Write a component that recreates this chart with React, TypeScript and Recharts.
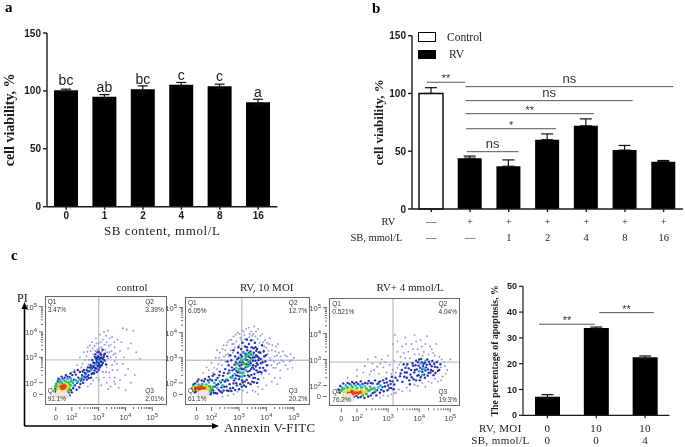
import {
  BarChart,
  Bar,
  XAxis,
  YAxis,
  ErrorBar,
  LabelList,
  Legend,
  ReferenceLine,
  ScatterChart,
  Scatter,
} from "recharts";

type Pt = [number, number];

// panel a
const doses = ["0", "1", "2", "4", "8", "16"];
const viability = [100.5, 95, 101.5, 105.3, 104, 90.2];
const viabilityErr = [1, 1.8, 2.8, 2, 1.8, 2.6];
const letters = ["bc", "ab", "bc", "c", "c", "a"];

// panel b
const rvRow = ["—", "+", "+", "+", "+", "+", "+"];
const sbRow = ["—", "—", "1", "2", "4", "8", "16"];
const controlVals = [100];
const controlErr = [5];
const rvVals = [44, 37, 60, 72, 51, 41];
const rvErr = [1.8, 5.5, 5, 6, 4, 1];
const bBrackets = [
  { x1: 0.38, x2: 1.38, y: 109.7, text: "**" },
  { x1: 1.38, x2: 6.75, y: 105.9, text: "ns" },
  { x1: 1.38, x2: 5.7, y: 93.8, text: "ns" },
  { x1: 1.38, x2: 4.7, y: 82.5, text: "**" },
  { x1: 1.4, x2: 3.72, y: 69.5, text: "*" },
  { x1: 1.42, x2: 2.75, y: 49.6, text: "ns" },
];

// panel c bars
const moiRow = ["0", "10", "10"];
const sbMmolRow = ["0", "0", "4"];
const apoptosis = [7.2, 33.8, 22.5];
const apoptosisErr = [0.8, 0.4, 0.5];
const cBrackets = [
  { x1: 0.33, x2: 1.47, y: 35.3, text: "**" },
  { x1: 1.56, x2: 2.68, y: 39.8, text: "**" },
];

// flow cytometry, control
const ctlPale: Pt[] = [[1.42, 1.5], [1.55, 1.46], [1.68, 1.5], [1.8, 1.48], [1.5, 1.6], [1.72, 1.58]];
const ctlHot: Pt[] = [[1.62, 1.8], [1.68, 1.84], [1.72, 1.8], [1.66, 1.76], [1.75, 1.86], [1.6, 1.86], [1.7, 1.9]];
const ctlYellow: Pt[] = [[1.5, 1.78], [1.56, 1.86], [1.8, 1.92], [1.78, 1.74], [1.58, 1.7], [1.85, 1.84], [1.52, 1.92], [1.74, 1.96]];
const ctlGreen: Pt[] = [[1.42, 1.72], [1.46, 1.84], [1.5, 1.98], [1.62, 2.0], [1.76, 2.04], [1.88, 2.0], [1.94, 1.9], [1.9, 1.76], [1.84, 1.66], [1.45, 1.62], [1.98, 2.06], [1.4, 1.86]];
const ctlCyan: Pt[] = [[1.38, 1.76], [1.44, 1.96], [1.56, 2.08], [1.7, 2.12], [1.84, 2.14], [1.96, 2.16], [2.04, 2.0], [2.08, 1.88], [2.14, 2.1], [2.22, 2.04], [2.3, 2.14], [2.4, 2.22], [2.5, 2.3], [2.72, 2.5], [2.9, 2.72], [3.0, 2.86]];
const ctlBlue: Pt[] = [[1.38, 1.58], [1.42, 1.95], [1.48, 2.06], [1.55, 2.12], [1.6, 1.55], [1.66, 2.16], [1.72, 1.5], [1.74, 2.2], [1.8, 1.52], [1.84, 2.24], [1.88, 1.6], [1.92, 2.22], [1.96, 1.7], [2.02, 2.3], [2.05, 1.78], [2.08, 2.12], [2.12, 1.9], [2.15, 2.32], [2.2, 2.0], [2.24, 2.2], [2.28, 1.82], [2.3, 2.42], [2.34, 2.08], [2.38, 2.3], [2.42, 2.0], [2.45, 2.5], [2.5, 2.2], [2.52, 2.36], [2.56, 2.12], [2.6, 2.6], [2.62, 2.3], [2.66, 2.46], [2.7, 2.7], [2.72, 2.2], [2.75, 2.55], [2.78, 2.38], [2.8, 2.8], [2.82, 2.62], [2.85, 2.48], [2.88, 2.72], [2.9, 2.95], [2.92, 2.56], [2.94, 2.82], [2.96, 2.66], [2.98, 3.05], [3.0, 2.75], [3.02, 2.9], [3.04, 2.6], [3.06, 3.15], [3.08, 2.84], [3.1, 3.0], [3.12, 2.7], [3.15, 3.3], [3.18, 2.92], [3.2, 3.1], [2.96, 3.2], [3.0, 2.5], [2.86, 3.02], [2.76, 2.9],
  [1.52, 1.54], [1.67, 1.45], [1.92, 1.5], [2.0, 1.62], [1.5, 2.16], [1.62, 2.24], [1.78, 2.3], [1.95, 2.36], [2.1, 2.42], [2.22, 2.5], [2.36, 2.16], [2.46, 2.24], [2.18, 1.72], [2.32, 1.95], [2.44, 2.12], [2.58, 2.24], [2.64, 2.18], [2.68, 2.6], [2.74, 2.34], [2.79, 2.66], [2.83, 2.36], [2.87, 2.58], [2.91, 2.78], [2.93, 2.42], [2.97, 2.92], [3.01, 3.0], [3.03, 2.7], [3.05, 2.95], [3.07, 2.66], [3.09, 3.1], [3.11, 2.82], [3.13, 2.96], [3.16, 2.78], [3.19, 3.02], [3.22, 2.88], [3.24, 3.14], [3.28, 2.72], [3.32, 3.04], [2.88, 3.12], [2.94, 3.0], [3.0, 3.22], [2.99, 2.68], [2.93, 2.88], [3.03, 2.82], [2.83, 2.78], [2.72, 2.6], [2.6, 2.44], [2.55, 2.5], [2.48, 2.38], [2.4, 2.44]];
const ctlSparse: Pt[] = [[2.2, 2.7], [2.3, 3.0], [2.4, 2.75], [2.45, 3.2], [2.55, 3.05], [2.6, 3.4], [2.65, 2.9], [2.7, 3.25], [2.75, 3.6], [2.8, 3.1], [2.85, 3.45], [2.9, 3.75], [2.95, 3.3], [3.0, 3.55], [3.05, 3.9], [3.1, 3.4], [3.15, 3.7], [3.2, 4.0], [3.25, 3.3], [3.3, 3.6], [3.35, 4.05], [3.4, 3.2], [3.45, 3.5], [3.5, 3.8], [3.55, 3.1], [3.6, 3.4], [3.65, 3.0], [3.7, 3.7], [3.8, 3.25], [3.85, 3.6], [3.9, 4.15], [3.95, 3.0], [4.05, 4.1], [4.1, 3.35], [4.2, 3.55], [4.3, 4.05], [4.4, 3.2], [4.55, 2.95], [3.3, 2.6], [3.4, 2.4], [3.5, 2.7], [3.6, 2.2], [3.7, 2.5], [3.8, 2.1], [3.9, 2.75], [4.0, 2.3], [4.1, 2.55], [4.2, 2.0], [3.2, 2.2], [3.3, 2.0], [3.1, 1.9], [3.45, 1.85], [3.75, 1.8], [4.0, 1.7], [4.35, 2.3], [2.1, 2.5], [2.0, 2.4], [2.5, 2.9], [2.35, 2.6], [3.25, 2.85], [3.35, 2.95], [3.45, 3.0], [3.6, 2.85],
  [2.62, 2.72], [2.58, 3.22], [2.68, 3.48], [2.78, 3.35], [2.88, 3.25], [2.92, 3.55], [3.02, 3.35], [3.08, 3.6], [3.12, 3.22], [3.22, 3.5], [3.28, 3.85], [3.32, 3.2], [3.38, 3.45], [3.42, 3.75], [3.48, 3.25], [3.58, 3.6], [3.62, 3.15], [3.68, 2.75], [3.52, 2.5], [3.42, 2.2], [3.28, 2.42], [3.16, 2.42], [3.58, 2.05], [3.36, 1.75], [3.62, 1.95], [2.92, 2.2], [3.0, 2.1], [2.8, 2.1], [2.7, 1.95], [2.6, 1.85]];

// flow cytometry, RV 10 MOI
const rvPale: Pt[] = [[1.55, 1.5], [1.68, 1.48], [1.8, 1.52], [1.62, 1.6], [1.76, 1.62]];
const rvHot: Pt[] = [[1.42, 1.78], [1.5, 1.8], [1.58, 1.78], [1.66, 1.8], [1.74, 1.78], [1.55, 1.74], [1.62, 1.84]];
const rvYellow: Pt[] = [[1.36, 1.8], [1.46, 1.86], [1.7, 1.86], [1.82, 1.8], [1.88, 1.76], [1.78, 1.84], [1.4, 1.72]];
const rvGreen: Pt[] = [[1.3, 1.78], [1.34, 1.86], [1.52, 1.92], [1.66, 1.94], [1.8, 1.92], [1.92, 1.86], [1.98, 1.78], [1.95, 1.68], [2.05, 1.84], [3.1, 2.9], [3.25, 3.05], [3.35, 2.85], [3.0, 2.55], [3.15, 2.4], [3.3, 2.65], [2.95, 2.75], [3.4, 3.15], [3.2, 2.75]];
const rvCyan: Pt[] = [[3.05, 3.0], [3.2, 2.95], [3.3, 3.15], [3.45, 2.95], [2.9, 2.6], [3.05, 2.4], [3.25, 2.5], [3.1, 2.25], [2.85, 2.35], [3.4, 2.7], [2.55, 2.15], [2.4, 1.9], [2.2, 1.8], [2.1, 2.0], [1.9, 2.02], [2.3, 2.05], [2.65, 2.4], [2.75, 2.2], [3.5, 3.1], [3.18, 3.2]];
const rvBlue: Pt[] = [[1.4, 1.98], [1.48, 2.06], [1.56, 1.62], [1.64, 2.1], [1.7, 1.58], [1.76, 2.16], [1.84, 1.6], [1.9, 2.24], [1.96, 1.55], [2.02, 2.1], [2.06, 1.7], [2.1, 2.34], [2.14, 1.6], [2.18, 1.92], [2.22, 2.2], [2.26, 1.72], [2.3, 2.45], [2.34, 2.02], [2.38, 1.62], [2.42, 2.28], [2.46, 1.85], [2.5, 2.55], [2.52, 2.1], [2.56, 1.7], [2.6, 2.38], [2.62, 2.7], [2.66, 1.95], [2.7, 2.22], [2.72, 2.9], [2.76, 2.5], [2.78, 1.8], [2.82, 2.1], [2.84, 2.72], [2.86, 3.05], [2.9, 2.3], [2.92, 1.9], [2.94, 2.95], [2.96, 3.2], [3.0, 2.15], [3.02, 2.68], [3.04, 1.95], [3.06, 3.12], [3.08, 3.35], [3.1, 2.55], [3.12, 2.1], [3.14, 2.82], [3.16, 3.22], [3.18, 1.9], [3.2, 2.28], [3.22, 3.45], [3.24, 2.62], [3.26, 2.92], [3.28, 2.12], [3.3, 3.3], [3.32, 2.45], [3.34, 3.05], [3.36, 3.55], [3.38, 2.25], [3.4, 2.85], [3.42, 3.25], [3.44, 2.55], [3.46, 3.42], [3.48, 2.05], [3.5, 3.0], [3.52, 2.7], [3.54, 3.2], [3.56, 2.35], [3.58, 3.6], [3.6, 2.88], [3.62, 3.1], [3.64, 2.5], [3.66, 3.35], [3.68, 2.72], [3.7, 2.15], [3.72, 3.0], [3.75, 2.45], [3.78, 3.2], [3.8, 2.78], [3.84, 3.5], [3.88, 2.6], [3.92, 3.05], [3.96, 2.85], [2.58, 2.85], [2.68, 3.1], [2.8, 3.3], [2.98, 3.42], [3.12, 3.6], [3.28, 3.72], [3.44, 3.7], [3.6, 3.42], [3.14, 2.02], [3.34, 2.0], [3.52, 2.2], [3.66, 2.0],
  [2.9, 2.0], [2.95, 2.42], [3.03, 2.25], [3.09, 2.72], [3.11, 3.05], [3.17, 2.55], [3.21, 2.05], [3.23, 3.15], [3.27, 2.75], [3.29, 3.42], [3.31, 2.9], [3.33, 2.3], [3.35, 2.72], [3.37, 3.2], [3.39, 2.48], [3.41, 3.0], [3.43, 2.78], [3.45, 2.32], [3.47, 3.12], [3.49, 2.62], [3.51, 2.88], [3.53, 3.38], [3.55, 2.55], [3.57, 3.02], [3.59, 2.2], [3.61, 2.65], [3.63, 3.28], [3.65, 2.78], [3.67, 3.05], [3.69, 2.42], [3.71, 2.9], [3.73, 3.22], [3.76, 2.6], [3.79, 2.95], [3.82, 2.42], [3.86, 2.82], [3.9, 3.25], [3.94, 2.5], [3.98, 3.1], [4.02, 2.7], [2.6, 2.1], [2.64, 2.5], [2.68, 1.78], [2.74, 2.62], [2.77, 2.28], [2.8, 1.98], [2.83, 2.55], [2.87, 2.18], [2.89, 2.82], [2.91, 2.48], [2.97, 2.28], [2.99, 3.0], [3.01, 2.42], [3.03, 2.82], [3.07, 2.58], [2.45, 2.4], [2.48, 2.05], [2.4, 2.12], [2.36, 1.82], [2.28, 2.3], [2.24, 1.95], [2.16, 2.12], [2.12, 1.85], [2.04, 2.28], [2.0, 1.72], [1.94, 2.14], [1.86, 2.1], [1.8, 1.7], [1.72, 2.06], [1.6, 1.72], [1.52, 2.14], [1.44, 1.66], [1.38, 1.62], [1.34, 1.94], [1.98, 1.62], [2.08, 1.6], [2.2, 1.58], [2.32, 1.66], [2.44, 1.7], [2.54, 1.85], [2.62, 1.68], [2.72, 1.68], [2.86, 1.72], [3.0, 1.75], [3.1, 1.85], [3.25, 1.85], [3.42, 1.95], [3.55, 2.02]];
const rvSparse: Pt[] = [[1.9, 2.5], [2.0, 2.8], [2.1, 2.6], [2.15, 3.0], [2.25, 2.75], [2.3, 3.2], [2.35, 2.9], [2.4, 3.35], [2.45, 3.05], [2.5, 2.85], [2.55, 3.5], [2.6, 3.15], [2.65, 3.7], [2.7, 3.3], [2.75, 3.55], [2.8, 3.85], [2.85, 3.4], [2.9, 3.65], [2.95, 4.0], [3.0, 3.5], [3.05, 3.8], [3.1, 4.1], [3.15, 3.6], [3.2, 3.9], [3.3, 3.75], [3.35, 4.2], [3.4, 3.95], [3.5, 3.7], [3.55, 4.25], [3.6, 3.85], [3.7, 4.15], [3.75, 3.6], [3.85, 3.95], [3.95, 3.7], [4.0, 3.4], [4.05, 3.15], [4.1, 3.55], [4.15, 2.9], [4.2, 3.3], [4.25, 2.6], [4.3, 3.05], [4.35, 3.45], [4.4, 2.75], [4.45, 3.2], [4.5, 2.5], [4.55, 2.9], [4.6, 3.25], [4.7, 2.7], [4.75, 3.05], [4.85, 2.85], [4.95, 2.6], [5.0, 3.0], [4.1, 2.35], [4.2, 2.05], [4.3, 2.2], [4.4, 1.95], [4.0, 1.9], [3.9, 2.2], [3.85, 1.75], [3.7, 1.85], [3.6, 1.65], [3.5, 1.7], [3.3, 1.62], [3.15, 1.7], [2.95, 1.65], [2.8, 1.55], [2.6, 1.5], [2.4, 1.45], [4.5, 2.2], [3.7, 1.55], [1.7, 2.4], [1.82, 2.62], [2.2, 3.3], [2.5, 3.3], [3.9, 3.3], [4.05, 2.7], [4.12, 3.0], [3.98, 2.45], [4.28, 2.85], [3.82, 2.35],
  [2.05, 2.4], [2.2, 2.55], [2.28, 3.0], [2.38, 2.7], [2.44, 3.5], [2.52, 3.12], [2.58, 3.62], [2.62, 3.05], [2.72, 3.72], [2.78, 3.2], [2.82, 3.55], [2.88, 3.92], [3.02, 3.95], [3.08, 3.72], [3.18, 4.05], [3.22, 3.75], [3.26, 4.15], [3.38, 3.82], [3.44, 4.05], [3.48, 3.88], [3.52, 3.95], [3.62, 4.05], [3.68, 3.75], [3.78, 3.88], [3.88, 3.62], [3.92, 3.45], [4.02, 3.6], [4.08, 3.28], [4.12, 3.78], [4.22, 3.5], [4.32, 3.25], [4.38, 3.1], [4.42, 3.55], [4.52, 3.05], [4.62, 2.85], [4.68, 3.1], [4.78, 2.55], [4.88, 3.15], [4.92, 2.9], [4.02, 2.5], [4.18, 2.7], [4.33, 2.6], [4.48, 2.8]];

// flow cytometry, RV + 4 mmol/L
const sbPale: Pt[] = [[1.55, 1.5], [1.68, 1.5], [1.82, 1.5], [1.6, 1.62], [1.76, 1.6]];
const sbHot: Pt[] = [[1.72, 1.7], [1.8, 1.72], [1.88, 1.68], [1.96, 1.72], [2.04, 1.7], [1.84, 1.78], [2.1, 1.74]];
const sbYellow: Pt[] = [[1.6, 1.74], [1.68, 1.8], [1.92, 1.82], [2.0, 1.8], [2.14, 1.82], [2.2, 1.72], [1.78, 1.86], [2.26, 1.78]];
const sbGreen: Pt[] = [[1.5, 1.82], [1.58, 1.88], [1.7, 1.92], [1.85, 1.94], [2.0, 1.9], [2.15, 1.92], [2.3, 1.88], [2.38, 1.8], [2.46, 1.86], [2.55, 1.9], [2.3, 1.68], [2.18, 1.62]];
const sbCyan: Pt[] = [[1.45, 1.72], [1.52, 1.92], [1.64, 2.0], [1.8, 2.02], [1.95, 2.0], [2.1, 2.0], [2.25, 1.98], [2.42, 1.96], [2.6, 1.8], [2.68, 1.92], [2.75, 2.0], [4.05, 2.85], [4.15, 2.65], [4.0, 2.55], [4.2, 2.95], [4.1, 2.4]];
const sbBlue: Pt[] = [[1.4, 1.85], [1.46, 1.98], [1.56, 2.08], [1.7, 2.1], [1.84, 2.14], [1.98, 2.12], [2.12, 2.16], [2.26, 2.1], [2.38, 2.18], [2.5, 2.08], [2.58, 2.2], [2.66, 2.06], [2.74, 2.16], [2.82, 1.94], [2.88, 2.1], [2.94, 2.26], [3.0, 2.0], [3.06, 2.18], [3.12, 2.34], [2.5, 1.7], [2.62, 1.62], [2.74, 1.72], [2.86, 1.78], [2.98, 1.82], [3.1, 1.9], [3.2, 2.04], [3.3, 2.2], [3.38, 2.36], [3.46, 2.14], [3.54, 2.5], [3.6, 2.3], [3.66, 2.66], [3.72, 2.42], [3.78, 2.86], [3.82, 2.24], [3.86, 2.6], [3.9, 2.96], [3.94, 2.38], [3.98, 2.76], [4.02, 2.2], [4.06, 3.02], [4.1, 2.62], [4.14, 2.84], [4.18, 2.3], [4.22, 2.7], [4.26, 3.0], [4.3, 2.48], [4.34, 2.82], [4.38, 2.6], [4.42, 2.95], [4.46, 2.4], [4.5, 2.72], [4.56, 2.9], [4.6, 2.56], [3.7, 2.05], [3.5, 2.82], [3.44, 2.6], [1.9, 1.56], [2.04, 1.54], [2.36, 1.58],
  [1.55, 1.6], [1.65, 1.55], [1.75, 1.58], [1.98, 1.6], [2.12, 1.56], [2.24, 1.52], [2.44, 1.62], [2.56, 1.74], [2.64, 1.82], [2.7, 2.12], [2.78, 1.84], [2.84, 2.2], [2.9, 1.96], [2.96, 2.12], [3.04, 1.9], [3.08, 2.06], [3.14, 2.16], [3.18, 1.86], [3.24, 2.3], [2.34, 2.08], [2.44, 2.1], [2.18, 2.06], [2.04, 2.06], [1.9, 2.08], [1.76, 2.06],
  [3.6, 2.5], [3.62, 2.82], [3.68, 2.2], [3.74, 2.6], [3.76, 2.32], [3.8, 2.76], [3.84, 2.5], [3.88, 2.78], [3.9, 2.2], [3.92, 2.62], [3.96, 2.9], [3.98, 2.4], [4.0, 3.0], [4.03, 2.68], [4.05, 2.32], [4.08, 2.9], [4.1, 2.52], [4.12, 2.74], [4.16, 2.42], [4.18, 2.88], [4.2, 2.58], [4.24, 2.8], [4.27, 2.38], [4.28, 2.62], [4.32, 2.92], [4.36, 2.5], [4.4, 2.74], [4.44, 2.56], [4.48, 2.84], [4.52, 2.48], [4.58, 2.7], [4.64, 2.6], [4.68, 2.82], [3.4, 2.46], [3.52, 2.34], [3.56, 2.68]];
const sbSparse: Pt[] = [[1.7, 2.3], [2.0, 2.36], [2.2, 2.5], [2.4, 2.42], [2.55, 2.6], [2.7, 2.45], [2.85, 2.7], [2.95, 2.5], [3.05, 2.8], [3.15, 2.6], [3.25, 2.5], [2.35, 3.0], [2.6, 3.1], [2.8, 3.0], [3.0, 3.15], [2.5, 2.85], [2.75, 2.85], [3.2, 2.95], [3.3, 3.3], [3.4, 3.1], [3.15, 3.6], [3.22, 3.95], [3.3, 3.7], [3.45, 3.5], [3.55, 3.85], [3.65, 3.3], [3.75, 3.6], [3.85, 3.95], [3.95, 3.4], [4.05, 3.75], [4.15, 3.3], [4.25, 3.9], [4.35, 3.5], [4.45, 3.25], [4.55, 3.6], [4.65, 3.1], [4.7, 2.7], [4.8, 2.9], [4.9, 2.6], [5.0, 3.0], [4.75, 2.35], [4.6, 2.15], [4.4, 2.1], [4.2, 1.95], [3.95, 1.98], [3.7, 1.8], [3.45, 1.78], [3.2, 1.7], [3.0, 1.6], [2.75, 1.52], [2.5, 1.48], [3.55, 3.05], [3.85, 3.2], [4.1, 3.15], [3.6, 2.75], [3.35, 2.8],
  [2.0, 2.6], [2.25, 2.75], [2.45, 2.55], [2.65, 2.72], [2.9, 2.9], [3.1, 2.45], [3.3, 2.68], [3.4, 2.9], [3.5, 3.25], [3.58, 3.6], [3.7, 3.05], [3.8, 3.4], [3.9, 3.7], [4.0, 3.2], [4.08, 3.5], [4.2, 3.6], [4.3, 3.2], [4.4, 3.4], [4.5, 3.15], [4.6, 2.95], [4.72, 3.0], [4.82, 2.75], [4.85, 2.45], [4.7, 2.2], [4.5, 2.25], [4.3, 2.15], [4.1, 2.1], [3.85, 2.02], [3.6, 1.92], [3.35, 1.85], [3.25, 1.72], [3.1, 1.66], [2.85, 1.62]];

const decadeMinors = [0.3, 0.48, 0.6, 0.7, 0.78, 0.85, 0.9, 0.95];
const decades = [2, 3, 4, 5];

const serif = "'Liberation Serif', serif";
const sans = "'Liberation Sans', Arial, sans-serif";
const ink = "#1a1a1a";

const layerStyle = [
  { color: "#8f95e2", r: 0.95 },
  { color: "#2430b0", r: 1.2 },
  { color: "#26b4cc", r: 1.4 },
  { color: "#35bf5c", r: 1.7 },
  { color: "#e6df2a", r: 1.8 },
  { color: "#e0421c", r: 1.8 },
  { color: "#ebe7dc", r: 3 },
];

const rows = (pts: Pt[]) => pts.map(([x, y]) => ({ x, y }));

const Dot = (color: string, r: number) => (p: any) => <circle cx={p.cx} cy={p.cy} r={r} fill={color} />;

const bracketLabel = (text: string) => ({
  value: text,
  position: "top" as const,
  offset: text === "ns" ? 4 : 0,
  fontSize: text === "ns" ? 13 : 11,
  fontFamily: sans,
  fill: "#333",
});

const axisTick = { fontFamily: sans, fontWeight: 700, fontSize: 10, fill: ink };

function PanelA() {
  const data = doses.map((dose, i) => ({ dose, v: viability[i], e: viabilityErr[i], tag: letters[i] }));
  return (
    <div style={{ position: "absolute", left: 0, top: 0 }}>
      <BarChart width={290} height={245} data={data} barSize={24} margin={{ top: 33, left: 9, right: 12.6, bottom: 0.3 }}>
        <XAxis
          dataKey="dose"
          height={38}
          stroke={ink}
          strokeWidth={1.4}
          tickSize={3}
          tick={axisTick}
          interval={0}
          label={{ value: "SB content, mmol/L", position: "insideBottom", offset: 10, fontFamily: serif, fontSize: 13, fill: ink, letterSpacing: 0.6 }}
        />
        <YAxis
          width={38}
          domain={[0, 150]}
          ticks={[0, 50, 100, 150]}
          stroke={ink}
          strokeWidth={1.4}
          tickSize={4}
          tick={axisTick}
          label={{ value: "cell viability, %", angle: -90, position: "center", dx: -19, fontFamily: serif, fontWeight: 700, fontSize: 14, fill: ink }}
        />
        <Bar dataKey="v" fill="#000" isAnimationActive={false}>
          <ErrorBar dataKey="e" width={5} stroke="#111" strokeWidth={1.2} direction="y" />
          <LabelList dataKey="tag" position="top" offset={5} fontFamily={sans} fontSize={14} fill={ink} />
        </Bar>
      </BarChart>
    </div>
  );
}

const bTick = (p: any) => {
  const i = p.index;
  return (
    <g fontFamily={serif} fontSize={10.5} fill={ink} textAnchor="middle">
      <text x={p.x} y={p.y + 11}>{rvRow[i]}</text>
      <text x={p.x} y={p.y + 27}>{sbRow[i]}</text>
      {i === 0 && (
        <g textAnchor="end">
          <text x={p.x - 36} y={p.y + 11}>RV</text>
          <text x={p.x - 29} y={p.y + 27}>SB, mmol/L</text>
        </g>
      )}
    </g>
  );
};

const bLegend = (p: any) => (
  <div>
    {p.payload.map((e: any) => (
      <div key={e.value} style={{ display: "flex", alignItems: "center", height: 17.5, fontFamily: serif, fontSize: 11.5, color: "#222" }}>
        <span style={{ display: "inline-block", boxSizing: "border-box", width: 18, height: 9.5, border: "1.4px solid #000", background: e.value === "Control" ? "#fff" : "#000", marginRight: e.value === "Control" ? 11 : 13 }} />
        {e.value}
      </div>
    ))}
  </div>
);

function PanelB() {
  const data = rvRow.map((_, i) => ({
    col: String(i),
    slot: i,
    control: i === 0 ? controlVals[0] : undefined,
    controlE: i === 0 ? [0, controlErr[0]] : undefined,
    rv: i === 0 ? undefined : rvVals[i - 1],
    rvE: i === 0 ? undefined : [0, rvErr[i - 1]],
  }));
  return (
    <div style={{ position: "absolute", left: 340, top: 0 }}>
      <BarChart width={345} height={250} data={data} barSize={24} margin={{ top: 35.7, left: 36, right: 2, bottom: 1 }}>
        <XAxis dataKey="col" height={40} stroke={ink} strokeWidth={1.4} tickSize={3} tick={bTick} interval={0} />
        <XAxis xAxisId="pos" dataKey="slot" type="number" domain={[0, 7]} allowDataOverflow hide />
        <YAxis
          width={36}
          domain={[0, 150]}
          ticks={[0, 50, 100, 150]}
          stroke={ink}
          strokeWidth={1.4}
          tickSize={4}
          tick={axisTick}
          label={{ value: "cell viability, %", angle: -90, position: "center", dx: -16, fontFamily: serif, fontWeight: 700, fontSize: 13, fill: ink }}
        />
        <Legend
          layout="vertical"
          align="center"
          verticalAlign="middle"
          content={bLegend}
          wrapperStyle={{ left: 78, top: 28, width: 100 }}
        />
        <Bar dataKey="control" name="Control" stackId="s" fill="#fff" stroke="#000" strokeWidth={1.4} isAnimationActive={false}>
          <ErrorBar dataKey="controlE" width={6} stroke="#111" strokeWidth={1.2} direction="y" />
        </Bar>
        <Bar dataKey="rv" name="RV" stackId="s" fill="#000" isAnimationActive={false}>
          <ErrorBar dataKey="rvE" width={6} stroke="#111" strokeWidth={1.2} direction="y" />
        </Bar>
        {bBrackets.map((b) => (
          <ReferenceLine
            key={`${b.x1}-${b.x2}`}
            xAxisId="pos"
            segment={[{ x: b.x1, y: b.y }, { x: b.x2, y: b.y }]}
            stroke="#555"
            strokeWidth={1}
            label={bracketLabel(b.text)}
          />
        ))}
      </BarChart>
    </div>
  );
}

const cTick = (p: any) => {
  const i = p.index;
  return (
    <g fontFamily={serif} fontSize={11} fill={ink} textAnchor="middle" letterSpacing={0.4}>
      <text x={p.x} y={p.y + 12}>{moiRow[i]}</text>
      <text x={p.x} y={p.y + 24}>{sbMmolRow[i]}</text>
      {i === 0 && (
        <g textAnchor="middle">
          <text x={p.x - 47} y={p.y + 12}>RV, MOI</text>
          <text x={p.x - 47} y={p.y + 24}>SB, mmol/L</text>
        </g>
      )}
    </g>
  );
};

function PanelCBars() {
  const data = moiRow.map((_, i) => ({ col: String(i), slot: i, v: apoptosis[i], e: apoptosisErr[i] }));
  return (
    <div style={{ position: "absolute", left: 470, top: 270 }}>
      <BarChart width={215} height={177} data={data} barSize={25} margin={{ top: 16.3, left: 13, right: 15.5, bottom: 0 }}>
        <XAxis dataKey="col" height={31.7} stroke={ink} strokeWidth={1.2} tickSize={3} tick={cTick} interval={0} />
        <XAxis xAxisId="pos" dataKey="slot" type="number" domain={[0, 3]} allowDataOverflow hide />
        <YAxis
          width={40}
          domain={[0, 50]}
          ticks={[0, 10, 20, 30, 40, 50]}
          stroke={ink}
          strokeWidth={1.2}
          tickSize={4}
          tick={{ ...axisTick, fontSize: 9 }}
          label={{ value: "The percentage of apoptosis, %", angle: -90, position: "center", dx: -8, fontFamily: serif, fontWeight: 700, fontSize: 9.8, fill: ink }}
        />
        <Bar dataKey="v" fill="#000" isAnimationActive={false}>
          <ErrorBar dataKey="e" width={6} stroke="#111" strokeWidth={1.2} direction="y" />
        </Bar>
        {cBrackets.map((b) => (
          <ReferenceLine
            key={b.x1}
            xAxisId="pos"
            segment={[{ x: b.x1, y: b.y }, { x: b.x2, y: b.y }]}
            stroke="#555"
            strokeWidth={1}
            label={bracketLabel(b.text)}
          />
        ))}
      </BarChart>
    </div>
  );
}

function FlowPanel(props: {
  left: number;
  top: number;
  w: number;
  h: number;
  xDomain: [number, number];
  yDomain: [number, number];
  zeroX: number;
  zeroY: number;
  gateX: number;
  gateY: number;
  title: string;
  titleX: number;
  stats: string[];
  layers: Pt[][];
}) {
  const { left, top, w, h, xDomain, yDomain, zeroX, zeroY, gateX, gateY, title, titleX, stats, layers } = props;
  const minors = decades.slice(0, 3).flatMap((d) => decadeMinors.map((m) => d + m));
  const xTick = (p: any) => {
    const v = p.payload.value;
    const major = v === zeroX || decades.includes(v);
    return (
      <g>
        <line x1={p.x} x2={p.x} y1={p.y} y2={p.y + (major ? 4 : 2)} stroke="#444" strokeWidth={0.8} />
        {major && (
          <text x={p.x} y={p.y + 13} textAnchor="middle" fontFamily={sans} fontSize={7.5} fill="#444">
            {v === zeroX ? "0" : "10"}
            {v !== zeroX && <tspan dy={-3} fontSize={6}>{v}</tspan>}
          </text>
        )}
      </g>
    );
  };
  const yTick = (p: any) => {
    const v = p.payload.value;
    const major = v === zeroY || decades.includes(v);
    return (
      <g>
        <line x1={p.x} x2={p.x - (major ? 4 : 2)} y1={p.y} y2={p.y} stroke="#444" strokeWidth={0.8} />
        {major && (
          <text x={p.x - 6} y={p.y + 3} textAnchor="end" fontFamily={sans} fontSize={7.5} fill="#444">
            {v === zeroY ? "0" : "10"}
            {v !== zeroY && <tspan dy={-3} fontSize={6}>{v}</tspan>}
          </text>
        )}
      </g>
    );
  };
  const quad: React.CSSProperties = { position: "absolute", fontFamily: sans, fontSize: 6.5, lineHeight: "8px", color: "#333" };
  return (
    <div style={{ position: "absolute", left: left - 30, top, width: w + 30, height: h + 22 }}>
      <ScatterChart width={w + 30} height={h + 22} margin={{ top: 0, right: 0, bottom: 0, left: 0 }}>
        <XAxis type="number" dataKey="x" domain={xDomain} ticks={[zeroX, ...decades, ...minors]} interval={0} height={22} tick={xTick} tickSize={0} axisLine={false} tickLine={false} allowDataOverflow />
        <YAxis type="number" dataKey="y" domain={yDomain} ticks={[zeroY, ...decades, ...minors]} interval={0} width={30} tick={yTick} tickSize={0} axisLine={false} tickLine={false} allowDataOverflow />
        {layers.map((pts, i) => (
          <Scatter key={i} data={rows(pts)} shape={Dot(layerStyle[i].color, layerStyle[i].r)} isAnimationActive={false} />
        ))}
        <ReferenceLine x={gateX} stroke="#c4c4c4" strokeWidth={1.4} />
        <ReferenceLine y={gateY} stroke="#c4c4c4" strokeWidth={1.4} />
      </ScatterChart>
      <div style={{ position: "absolute", left: 30, top: 0, width: w, height: h, boxSizing: "border-box", border: "1.2px solid #666" }}>
        <span style={{ ...quad, left: 2, top: 1 }}>Q1<br />{stats[0]}</span>
        <span style={{ ...quad, right: 2, top: 1, textAlign: "left" }}>Q2<br />{stats[1]}</span>
        <span style={{ ...quad, left: 2, bottom: 1 }}>Q4<br />{stats[3]}</span>
        <span style={{ ...quad, right: 2, bottom: 1 }}>Q3<br />{stats[2]}</span>
      </div>
      <div style={{ position: "absolute", left: titleX - (left - 30) - 60, top: 281 - top, width: 120, textAlign: "center", fontFamily: serif, fontSize: 11, color: "#222", whiteSpace: "nowrap" }}>{title}</div>
    </div>
  );
}

const letter = (text: string, left: number, top: number) => (
  <div style={{ position: "absolute", left, top, fontFamily: serif, fontWeight: 700, fontSize: 15, lineHeight: "15px", color: "#000" }}>{text}</div>
);

export default function App() {
  return (
    <div style={{ position: "absolute", left: 0, top: 0, width: 685, height: 447, background: "#fff", overflow: "hidden", filter: "blur(0.5px)" }}>
      {letter("a", 5, 0)}
      {letter("b", 372, 1)}
      {letter("c", 11, 248)}
      <PanelA />
      <PanelB />
      <PanelCBars />
      <FlowPanel
        left={44.7} top={296} w={122} h={109}
        xDomain={[1, 5.55]} yDomain={[1.12, 5.42]} zeroX={1.4} zeroY={1.54}
        gateX={3} gateY={2.9}
        title="control" titleX={132}
        stats={["3.47%", "3.39%", "2.01%", "91.1%"]}
        layers={[ctlSparse, ctlBlue, ctlCyan, ctlGreen, ctlYellow, ctlHot, ctlPale]}
      />
      <FlowPanel
        left={185} top={296.5} w={125.3} h={108}
        xDomain={[1.03, 5.6]} yDomain={[1.12, 5.42]} zeroX={1.45} zeroY={1.54}
        gateX={3.1} gateY={2.9}
        title="RV, 10 MOI" titleX={266.7}
        stats={["6.05%", "12.7%", "20.2%", "61.1%"]}
        layers={[rvSparse, rvBlue, rvCyan, rvGreen, rvYellow, rvHot, rvPale]}
      />
      <FlowPanel
        left={329.3} top={297.7} w={130.7} h={108.3}
        xDomain={[1.1, 5.3]} yDomain={[1.2, 5.37]} zeroX={1.5} zeroY={1.58}
        gateX={3.16} gateY={2.9}
        title="RV+ 4 mmol/L" titleX={410}
        stats={["0.521%", "4.04%", "19.3%", "76.2%"]}
        layers={[sbSparse, sbBlue, sbCyan, sbGreen, sbYellow, sbHot, sbPale]}
      />
      <svg width={685} height={447} style={{ position: "absolute", left: 0, top: 0, pointerEvents: "none" }}>
        <path d="M24.5 426 V308 M24.5 426 H214" stroke="#000" strokeWidth={1.6} fill="none" />
        <path d="M24.5 302 L21.5 309 H27.5 Z M219 426 L212 423 V429 Z" fill="#000" />
      </svg>
      <div style={{ position: "absolute", left: 17, top: 291, fontFamily: serif, fontSize: 12, color: "#111" }}>PI</div>
      <div style={{ position: "absolute", left: 224, top: 421, fontFamily: serif, fontSize: 13, lineHeight: "13px", color: "#222", letterSpacing: 0.2, whiteSpace: "nowrap" }}>Annexin  V-FITC</div>
    </div>
  );
}
